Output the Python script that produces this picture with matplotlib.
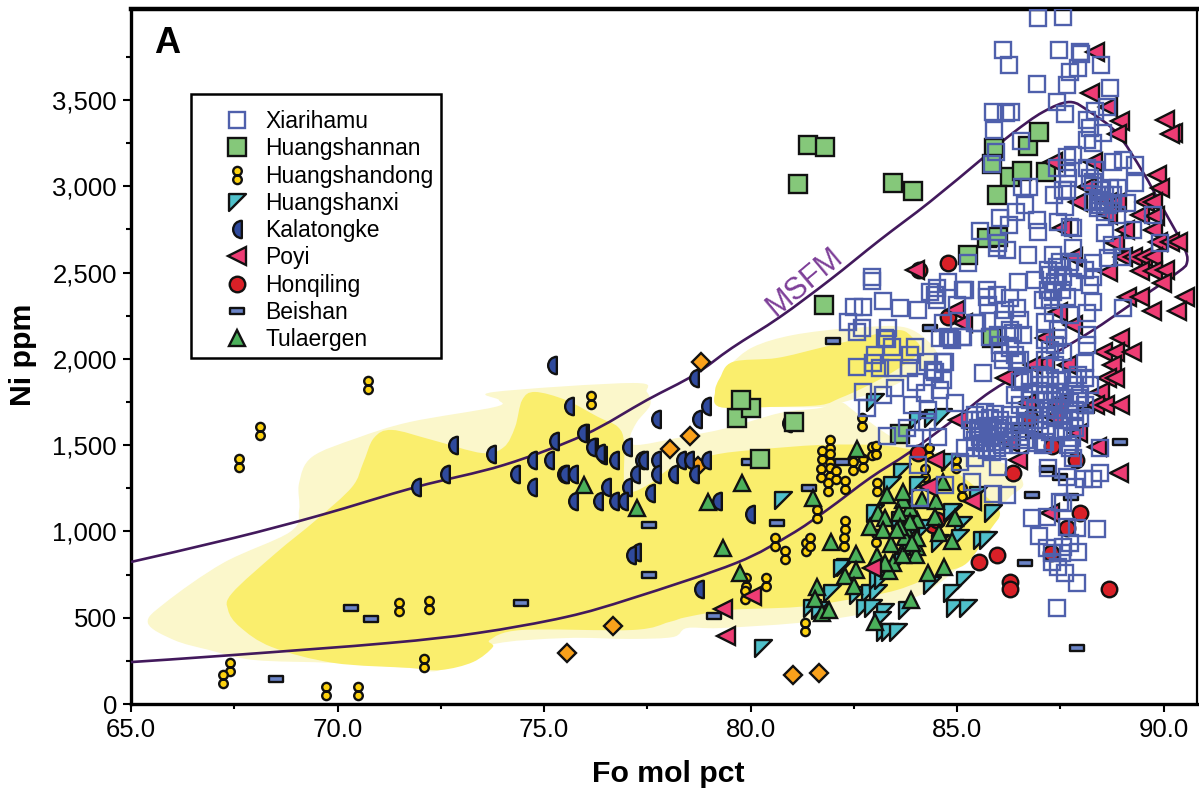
import matplotlib
matplotlib.use("Agg")
import matplotlib.pyplot as plt
from matplotlib.path import Path
from matplotlib.patches import PathPatch
import numpy as np

plt.rcParams['font.family'] = ['Liberation Sans', 'DejaVu Sans']

x_ticks = [65, 70, 75, 80, 85, 90]
x_minor = [67.5, 72.5, 77.5, 82.5, 87.5]
y_ticks = [0, 500, 1000, 1500, 2000, 2500, 3000, 3500]
y_minor = [250, 750, 1250, 1750, 2250, 2750, 3250, 3750]

huangshannan = [(81.39,3239),(81.80,3227),(81.15,3013),(83.45,3019),(83.93,2972),(85.27,2601),(81.78,2312),
 (85.90,3221),(85.85,3129),(86.28,3053),(86.57,3088),(87.15,3082),(86.72,3233),(86.99,3314),(85.97,2949),
 (85.73,2700),(86.0,2706),(85.85,2121),(79.67,1657),(80.01,1715),(79.77,1761),(80.23,1420),(81.05,1634),(83.62,1564)]

xiarihamu = [(86.96,3975),(87.56,3980),(86.11,3789),(86.26,3702),(87.47,3789),(87.98,3778),(88.0,3766),(88.48,3702),
 (87.73,3662),(87.93,3685),(86.93,3592),(87.66,3586),(88.70,3569),(87.42,3488),(85.87,3430),(86.18,3424),(86.30,3430),
 (87.61,3418),(85.89,3326),(88.34,3436),(88.63,3459),(88.14,3384),(88.22,3337),(88.53,3308),(88.14,3268),(88.29,3250),
 (86.55,3262),(85.94,3198),(85.85,3129),(87.81,3181),(87.66,3169),(88.77,3140),(89.02,3152),(89.31,3123),(87.42,3106),
 (87.66,3106),(88.14,3106),(88.34,3094),(87.68,3048),(88.22,3048),(88.29,3024),(89.31,3019),(86.57,2995),(86.74,2995),
 (87.35,2949),(87.56,2978),(87.66,2978),(88.70,2990),(88.90,2990),(88.46,2949),(88.29,2909),(88.53,2909),(88.77,2903),
 (89.11,2903),(88.41,2874),(88.58,2851),(88.87,2833),(87.61,2880),(86.64,2891),(86.43,2851),(86.04,2816),(86.93,2804),
 (86.26,2775),(86.96,2735),(87.44,2793),(87.73,2764),(87.81,2758),(88.58,2729),(89.26,2746),(85.55,2741),(85.99,2671),
 (85.97,2642),(86.21,2630),(86.72,2601),(87.32,2601),(87.81,2642),(88.75,2659),(88.65,2584),(88.99,2590),(89.91,2671),
 (89.74,2833),(85.26,2555),(88.29,2555),(88.29,2474),(87.42,2532),(87.73,2561),(87.93,2526),(87.25,2486),(87.56,2474),
 (87.81,2445),(86.89,2457),(86.47,2445),(85.14,2399),(84.78,2445),(84.34,2387),(84.46,2370),(85.0,2312),(85.72,2358),
 (85.97,2370),(85.75,2312),(86.28,2352),(87.08,2341),(87.32,2387),(87.66,2358),(88.29,2329),(89.02,2294),(86.16,2283),
 (86.45,2294),(86.52,2225),(86.11,2225),(85.48,2207),(87.13,2213),(87.32,2265),(88.14,2265),(87.73,2254),(84.83,2121),
 (84.59,2121),(85.14,2126),(85.80,2126),(85.99,2138),(86.35,2150),(86.60,2138),(86.04,2034),(86.40,2022),(86.45,1982),
 (87.44,2121),(88.14,2138),(87.56,2039),(88.14,2080),(87.13,1993),(87.37,1964),(88.10,1976),(84.66,1982),(85.63,1918),
 (84.66,1877),(84.42,1935),(86.60,1877),(87.25,1889),(87.81,1889),
 (82.94,2474),(82.94,2451),(83.21,2335),(83.62,2294),(82.50,2300),(82.72,2300),(82.36,2213),(82.58,2155),(82.70,2179),
 (83.33,2179),(83.25,2121),(83.30,2115),(83.42,2068),(83.01,2022),(83.98,2068),(83.86,2022),(82.96,1976),(83.13,1947),
 (82.58,1953),(83.45,1947),(83.84,1947),(84.30,1982),(84.71,1982),(84.46,1924),(84.0,1866),(83.50,1831),(83.21,1790),
 (82.72,1808),(82.82,1715),(83.91,1732),(84.22,1802),(84.59,1819),(84.30,1703),(84.95,1744),(84.05,2283),(85.19,2399),
 (84.51,2410),(84.51,2341),(85.43,2207),(84.66,2207),(84.78,2126),(85.12,2126),(84.88,2109),(85.72,2399),
 (85.43,1674),(85.55,1645),(85.67,1692),(85.80,1657),(85.92,1680),(86.04,1645),(85.51,1599),(85.63,1576),(85.75,1611),
 (85.87,1588),(85.99,1599),(86.11,1617),(85.43,1530),(85.55,1547),(85.67,1512),(85.80,1541),(85.92,1518),(86.04,1553),
 (86.16,1576),(85.60,1483),(85.72,1472),(85.84,1460),(85.97,1483),(86.09,1501),(86.23,1530),(85.36,1588),(85.31,1645),
 (86.28,1674),(86.40,1617),(86.33,1547),(86.52,1576),(86.52,1501),(86.64,1530),(86.76,1617),(86.89,1645),
 (86.52,1866),(86.76,1889),(87.01,1906),(87.25,1848),(87.49,1877),(87.85,1848),(88.10,1889),(88.22,1848),(86.40,1790),
 (86.76,1808),(87.13,1790),(87.37,1808),(87.61,1773),(87.98,1790),(86.89,1703),(87.20,1715),(87.49,1732),(87.85,1703),
 (88.10,1732),(86.52,1732),(87.01,1645),(87.37,1657),(87.73,1645),(87.01,1588),(87.54,1576),(87.85,1599),(87.13,1518),
 (87.68,1501),(87.78,1541),(86.64,1674),
 (83.30,1553),(83.79,1599),(83.98,1541),(84.27,1634),(84.54,1547),(85.07,1402),(84.05,1385),(84.10,1194),(84.71,1269),
 (85.36,1286),(85.87,1217),(86.21,1211),(85.99,1373),(85.43,1425),(85.19,1483),(88.46,1483),(87.81,1425),(87.20,1367),
 (87.66,1315),(88.46,1338),(88.29,1304),(88.07,1304),(87.85,1257),(86.81,1078),(87.49,1170),(87.56,1165),(87.18,1083),
 (88.39,1014),(87.90,1020),(87.66,1026),(86.98,973),(87.18,904),(87.93,881),(87.30,875),(87.54,875),(87.73,933),
 (87.44,794),(87.61,759),(87.90,701),(87.42,556),(87.56,910),(87.30,823),(86.93,1512),(87.25,1576),(87.56,1588),
 (86.69,1628),(87.73,1483),(87.08,1501),(86.52,1547),(87.98,1657),(87.42,1703),
 (87.20,2515),(87.37,2445),(87.20,2399),(87.49,2561),(87.54,2399),(87.25,2341),(87.44,2486),(88.10,2515),(88.22,2428),
 (87.13,2109),(87.25,2051),(87.44,2167),(87.37,2080),(87.01,1848),(87.13,1889),(87.30,1761),(87.49,1808),(87.73,1750),
 (87.93,1906),(86.52,1993),(86.76,1761),(87.01,1761),(87.25,1674),(87.54,1645),(87.73,1703),(87.93,1773),(86.04,2080),
 (86.28,2063),(86.28,2167),(86.11,1993),(88.46,2978),(88.58,2949),(88.41,2920),(88.65,2891),(88.77,2949),(88.46,2891)]

poyi = [(88.34,3778),(88.22,3540),(88.65,3459),(88.94,3378),(90.03,3384),(90.23,3308),(90.15,3303),(88.87,3303),
 (87.32,3140),(88.29,3140),(89.84,3065),(89.91,2990),(89.55,2909),(89.74,2909),(89.43,2833),(89.79,2827),(89.74,2746),
 (89.07,2746),(88.82,2671),(89.86,2677),(90.15,2677),(90.35,2677),(88.14,2995),(87.93,2909),(88.65,2909),(88.87,2909),
 (88.65,2833),(87.54,2758),(87.81,2590),(88.65,2503),(89.02,2590),(89.26,2590),(89.50,2590),(89.74,2590),(89.43,2509),
 (89.74,2509),(90.03,2515),(89.96,2439),(89.11,2358),(89.43,2358),(89.72,2277),(90.52,2358),(90.32,2277),(88.94,2121),
 (88.53,2039),(88.82,2039),(89.23,2039),(88.75,1964),(88.63,1889),(88.82,1889),(87.13,2121),(87.81,2196),(87.44,2271),
 (87.66,1964),(87.13,1976),(86.84,1964),(86.16,1889),(84.95,2283),(85.14,2207),(88.46,1808),(88.34,1732),(88.58,1732),
 (88.94,1732),(88.92,1338),(88.39,1489),(87.25,1107),(86.47,1414),(85.02,1645),(84.46,1414),(84.30,1257),(85.36,1176),
 (82.94,788),(86.28,1512),(87.42,1744),(87.93,1570),(87.32,1663),(86.69,1744),(80.03,626),(79.33,550),(79.40,394),(83.98,2515)]

honqiling = [(84.08,2515),(84.78,2555),(84.78,2242),(84.05,1454),(86.35,1338),(86.77,1657),(87.30,1495),(87.88,1414),
 (87.98,1107),(87.66,1020),(87.27,875),(85.54,823),(85.97,863),(86.28,707),(86.28,666),(88.68,666),(84.42,1037),(84.51,1066)]

huangshanxi = [(83.67,1344),(83.42,1269),(84.05,1269),(83.01,1107),(84.90,1107),(85.14,1037),(85.07,962),(84.59,933),
 (84.27,1020),(82.29,794),(81.97,643),(81.49,556),(81.68,545),(82.60,632),(82.89,643),(83.08,643),(83.08,718),(82.77,556),
 (82.96,556),(83.25,533),(83.18,487),(83.25,417),(83.38,417),(83.57,417),(83.79,545),(84.39,689),(85.19,718),(84.88,643),
 (84.95,556),(85.26,556),(83.69,834),(84.83,1402),(83.01,1750),(84.42,1657),(84.66,1663),(84.05,1645),(84.88,1112),
 (85.87,1107),(85.51,1211),(85.60,950),(85.75,950),(82.21,788),(83.21,718),(80.79,1182),(80.30,324),(83.62,1066),(83.86,979)]

kalatongke = [(75.19,1964),(75.60,1727),(78.63,1889),(78.92,1727),(77.71,1651),(78.70,1651),(80.88,1628),(72.80,1501),
 (75.24,1524),(75.97,1570),(75.92,1570),(76.18,1489),(76.14,1489),(76.40,1443),(76.35,1454),(76.69,1414),(77.01,1489),
 (73.72,1449),(74.71,1414),(75.12,1414),(77.32,1414),(77.40,1414),(77.71,1414),(78.32,1414),(78.51,1414),(78.92,1414),
 (72.60,1333),(74.30,1333),(75.43,1333),(75.48,1333),(75.70,1333),(77.20,1333),(77.71,1333),(78.12,1333),(78.63,1333),
 (71.90,1257),(74.71,1257),(76.50,1257),(77.01,1257),(77.56,1223),(75.70,1176),(76.31,1176),(76.69,1176),(76.91,1176),
 (79.19,1176),(79.99,1101),(77.23,881),(77.11,863),(78.75,666)]

unnamed_diamond = [(78.80,1982),(78.53,1553),(78.05,1477),(78.73,1379),(76.67,452),(75.56,295),(81.03,168),(81.66,180)]

huangshandong = [(70.74,1848),(68.12,1582),(67.62,1396),(76.14,1761),(67.40,214),(67.23,145),(69.72,75),(70.50,75),
 (72.09,238),(71.49,562),(72.22,574),(81.32,446),(80.59,939),(80.84,863),(81.34,910),(81.44,939),(80.37,707),(79.89,707),
 (79.87,632),(81.92,1506),(81.73,1443),(81.92,1425),(81.92,1344),(81.71,1338),(81.87,1257),(82.07,1327),(82.29,1269),
 (82.48,1379),(82.72,1396),(82.94,1466),(83.06,1257),(81.61,1101),(82.29,1037),(82.26,939),(84.22,1338),(85.12,1228),
 (83.04,962),(84.32,1460),(84.97,1391),(82.70,1634),(83.04,1472)]

beishan = [(68.51,145),(70.33,556),(70.81,492),(74.44,585),(77.54,1037),(77.54,747),(79.12,510),(80.64,1049),(81.42,1251),
 (81.99,2103),(79.96,1402),(82.22,1402),(86.82,1211),(86.64,817),(88.95,1518),(87.18,1362),(87.49,1315),(87.76,1199),
 (87.90,324),(84.35,2179),(86.52,1599),(86.84,1559),(88.14,1703)]

tulaergen = [(75.97,1269),(77.25,1136),(78.97,1170),(79.80,1280),(79.33,904),(79.75,759),(81.51,1194),(82.58,1477),
 (83.30,1211),(81.95,939),(82.56,869),(83.06,857),(82.56,776),(82.29,742),(81.61,678),(81.56,608),(82.51,684),(81.73,527),
 (81.90,545),(83.01,475),(83.89,603),(84.30,759),(84.69,794),(83.35,771),(83.45,817),(83.25,817),(82.89,1026),(83.08,1107),
 (83.25,1078),(83.21,1008),(83.40,927),(83.74,915),(84.03,910),(83.74,1020),(84.03,1066),(83.86,1136),(83.69,1182),
 (83.69,1228),(84.15,1182),(84.49,1176),(83.59,1107),(83.86,1055),(83.74,968),(84.03,962),(84.46,1083),(84.56,991),
 (84.88,944),(84.95,1078),(84.66,1286),(84.0,863),(83.69,863),(83.62,1026),(83.91,933),(83.55,1008)]

msfm_curve = [(65.0,823),(67.49,962),(69.6,1095),(71.9,1257),(74.03,1385),(75.97,1559),(77.49,1761),(78.63,1906),
 (79.55,2063),(80.71,2242),(81.92,2457),(83.13,2688),(84.34,2909),(85.63,3164),(86.35,3308),(87.08,3430),(87.73,3488),
 (88.22,3430),(88.87,3308),(89.5,3082),(89.98,2874),(90.47,2659),(90.57,2561),(90.32,2497),(89.19,2312),(88.22,2155),
 (86.76,1947),(85.8,1808),(85.07,1674),(83.86,1460),(82.89,1309),(81.85,1124),(80.95,979),(79.65,817),(77.15,614),
 (75.53,504),(73.38,411),(71.22,353),(67.49,284),(65.0,243)]

pale_main = [(65.41,469),(65.82,585),(67.23,817),(68.85,997),(69.07,1124),(69.07,1280),(69.38,1431),(70.47,1541),
 (71.75,1634),(73.81,1721),(73.91,1761),(73.79,1808),(77.15,1860),(77.49,1808),(77.57,1732),(77.25,1634),(77.08,1541),
 (77.25,1501),(78.22,1541),(79.43,1599),(80.71,1686),(81.68,1715),(82.17,1750),(82.65,1674),(83.93,1489),(86.04,1402),
 (86.60,1280),(86.28,1199),(85.80,1066),(85.31,857),(84.34,661),(83.55,585),(82.58,516),(81.12,469),(79.26,440),
 (78.46,440),(78.12,388),(77.08,377),(75.53,382),(73.69,342),(72.50,197),(71.75,209),(69.91,238),(67.98,255),(66.89,313),(66.04,371)]

pale_upper = [(79.5,1964),(80.06,2068),(81.03,2138),(82.48,2179),(83.79,2179),(84.51,2039),(84.27,1953),(83.38,1837),
 (82.17,1744),(81.68,1721),(80.47,1721),(79.26,1721),(79.14,1808),(79.26,1889)]

yellow_upper = [(79.14,1808),(79.26,1889),(79.57,1982),(80.64,2005),(81.68,2063),(82.48,2109),(83.54,2167),(83.93,2121),
 (84.10,2039),(83.45,1924),(82.72,1831),(82.17,1773),(81.68,1732),(80.47,1721),(79.26,1721)]

yellow_main = [(67.35,545),(67.45,643),(68.51,875),(69.48,1066),(70.35,1257),(70.62,1396),(70.88,1541),(71.32,1588),
 (72.29,1530),(73.50,1454),(74.03,1489),(74.30,1605),(74.47,1761),(74.78,1808),(75.53,1761),(76.31,1663),(76.79,1605),
 (76.94,1512),(76.94,1280),(77.11,1228),(77.59,1280),(78.12,1373),(79.11,1443),(80.06,1472),(81.68,1501),(82.96,1501),
 (83.69,1483),(84.34,1443),(85.14,1315),(85.72,1199),(86.04,1107),(85.80,1008),(85.24,817),(84.59,759),(83.55,661),
 (82.33,603),(81.12,562),(79.50,545),(78.46,504),(78.03,475),(77.15,429),(74.47,429),(73.69,371),(73.76,330),(73.28,243),
 (72.50,197),(71.75,209),(69.91,238),(68.41,330),(67.64,446)]


def spline_path(points, closed=False):
    """Catmull-Rom through the traced vertices, expressed as Bezier segments."""
    p = np.array(points, float)
    n = len(p)
    verts = [p[0]]
    codes = [Path.MOVETO]
    last = n if closed else n - 1
    for i in range(last):
        if closed:
            p0, p1, p2, p3 = p[(i - 1) % n], p[i], p[(i + 1) % n], p[(i + 2) % n]
        else:
            p0, p1, p2, p3 = p[max(i - 1, 0)], p[i], p[i + 1], p[min(i + 2, n - 1)]
        verts += [p1 + (p2 - p0) / 6, p2 - (p3 - p1) / 6, p2]
        codes += [Path.CURVE4] * 3
    return Path(np.array(verts), codes)


half = Path.wedge(90, 270)
half_marker = Path(half.vertices + np.array([0.5, 0]), half.codes)
double_marker = Path.make_compound_path(Path.circle((0, 0.5), 0.5), Path.circle((0, -0.5), 0.5))
corner_marker = Path([(-1, 1), (1, 1), (-1, -1), (-1, 1)], closed=True)
bar_marker = Path([(-1, -0.38), (1, -0.38), (1, 0.38), (-1, 0.38), (-1, -0.38)], closed=True)

K = '#111111'
fig = plt.figure(figsize=(11.99, 7.91), dpi=100)
ax = fig.add_axes([131 / 1199, 87 / 791, 1066 / 1199, 695 / 791])
ax.set_xlim(65, 90.81)
ax.set_ylim(0, 4027)

ax.add_patch(PathPatch(spline_path(pale_main, True), fc='#fbf7cb', ec='none', zorder=1))
ax.add_patch(PathPatch(spline_path(pale_upper, True), fc='#fbf7cb', ec='none', zorder=1))
ax.add_patch(PathPatch(spline_path(yellow_main, True), fc='#faee6d', ec='none', zorder=2))
ax.add_patch(PathPatch(spline_path(yellow_upper, True), fc='#faee6d', ec='none', zorder=2))
ax.add_patch(PathPatch(spline_path(msfm_curve), fc='none', ec='#42195c', lw=1.9, zorder=3))


def series(data, marker, ms, fc, z, label=None, ec=K, mew=1.7):
    xs, ys = zip(*data)
    line, = ax.plot(xs, ys, ls='none', marker=marker, ms=ms, mfc=fc, mec=ec, mew=mew, zorder=z, label=label)
    return line


series(unnamed_diamond, 'D', 8.8, '#f9a11b', 4)
h_kal = series(kalatongke, half_marker, 12.5, '#2f4a9d', 4.5, 'Kalatongke')
h_bei = series(beishan, bar_marker, 10.5, '#6a83c6', 4.7, 'Beishan')
h_hgn = series(huangshannan, 's', 12.5, '#85c87a', 5, 'Huangshannan')
h_hon = series(honqiling, 'o', 11.2, '#d92027', 5.5, 'Honqiling')
h_hgd = series(huangshandong, double_marker, 12.4, '#fdd20e', 6, 'Huangshandong')
h_hgx = series(huangshanxi, corner_marker, 12.2, '#4fc0ca', 7, 'Huangshanxi')
h_tul = series(tulaergen, '^', 12, '#4bb05a', 8, 'Tulaergen')
h_poy = series(poyi, '<', 12.3, '#ee3c74', 9, 'Poyi')
h_xia = series(xiarihamu, 's', 11.3, 'none', 10, 'Xiarihamu', ec='#4f60ac', mew=1.7)

ax.text(81.32, 2445, 'MSFM', color='#7d3f98', fontsize=22, rotation=40, rotation_mode='anchor',
        ha='center', va='center', zorder=11)
ax.text(0.0215, 0.950, 'A', transform=ax.transAxes, fontsize=26, fontweight='bold', color='black',
        ha='left', va='center', zorder=11)

ax.set_xticks(x_ticks)
ax.set_xticklabels([f'{v:.1f}' for v in x_ticks])
ax.set_xticks(x_minor, minor=True)
ax.set_yticks(y_ticks)
ax.set_yticklabels([f'{v:,}' for v in y_ticks])
ax.set_yticks(y_minor, minor=True)
ax.tick_params(axis='both', which='major', length=6, width=1.5, labelsize=18.5, pad=4)
ax.tick_params(axis='both', which='minor', length=3.5, width=1.5)
ax.set_xlabel('Fo mol pct', fontsize=21.8, fontweight='bold')
ax.set_ylabel('Ni ppm', fontsize=21.8, fontweight='bold')
ax.xaxis.set_label_coords(0.504, -0.08)
ax.yaxis.set_label_coords(-0.088, 0.502)
ax.spines['left'].set_linewidth(2.4)
ax.spines['bottom'].set_linewidth(2.4)
ax.spines['top'].set_linewidth(3.2)
ax.spines['right'].set_linewidth(1.6)

leg = ax.legend(handles=[h_xia, h_hgn, h_hgd, h_hgx, h_kal, h_poy, h_hon, h_bei, h_tul],
                loc='upper left', bbox_to_anchor=(60 / 1066, 610 / 695), borderaxespad=0,
                fontsize=16.5, numpoints=1, frameon=True, fancybox=False, framealpha=1, edgecolor='black',
                borderpad=0.30, labelspacing=0.185, handlelength=3.45, handletextpad=-0.5,
                title=' ', title_fontsize=4)
leg.get_frame().set_linewidth(1.8)
leg.set_zorder(12)

fig.savefig('out.png', dpi=100)
